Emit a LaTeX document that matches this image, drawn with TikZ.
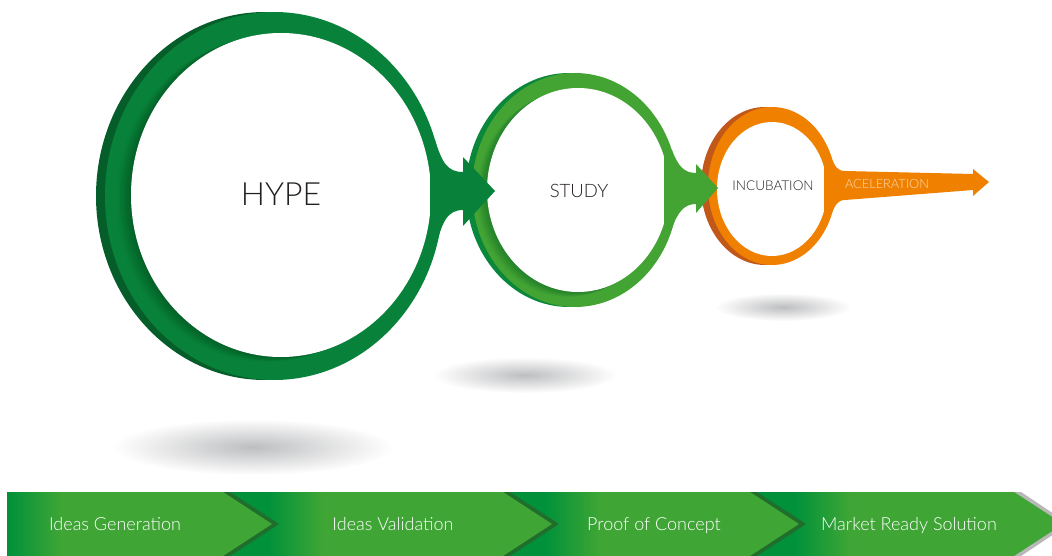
\documentclass[tikz,border=0pt]{standalone}
\usepackage{fontspec}
\newfontfamily\lightfont{Lato Light}
\definecolor{hypefront}{HTML}{08823A}
\definecolor{hypeback}{HTML}{055E29}
\definecolor{hypedark}{HTML}{035F27}
\definecolor{studyfront}{HTML}{43A433}
\definecolor{studyback}{HTML}{0B873B}
\definecolor{studydark}{HTML}{23802A}
\definecolor{incfront}{HTML}{EF8000}
\definecolor{incback}{HTML}{C1581A}
\definecolor{acctext}{HTML}{FDDCB5}
\definecolor{labelgray}{HTML}{231F20}
\definecolor{barlight}{HTML}{3FA635}
\definecolor{bardark}{HTML}{00913A}
\definecolor{barstripe}{HTML}{1F6E2C}
\definecolor{shgray}{HTML}{BDBEC0}
\tikzset{
  ringlabel/.style={text=labelgray, inner sep=0pt},
  barlabel/.style={text=white, inner sep=0pt, anchor=base, font=\lightfont\fontsize{18}{20}\selectfont},
}
\begin{document}
\begin{tikzpicture}[x=1pt,y=-1pt]
\useasboundingbox (0,0) rectangle (1052,556);
\clip (0,0) rectangle (1052,556);
% ---- floor shadows
\shade[inner color=shgray, outer color=white] (253,447) ellipse [x radius=140, y radius=28];
\shade[inner color=shgray, outer color=white] (525,375) ellipse [x radius=92, y radius=18];
\shade[inner color=shgray, outer color=white] (783,307) ellipse [x radius=68, y radius=14];
% ---- HYPE ring
\fill[hypeback] (265,196) ellipse [x radius=169, y radius=184];
\fill[hypefront] (274,196) ellipse [x radius=169, y radius=184];
\foreach \o/\p in {14/15,11/35,8/55,5/75,2/90}
  \fill[hypedark!\p!hypefront] (281-\o,195+\o/3) ellipse [x radius=150, y radius=162];
\fill[white] (281,195) ellipse [x radius=150, y radius=162];
\node[ringlabel, font=\lightfont\fontsize{32}{36}\selectfont] (hype) at (281,194) {HYPE};
% ---- STUDY ring
\fill[studyback] (569,190) ellipse [x radius=103, y radius=117];
\fill[studyfront] (575,190) ellipse [x radius=103, y radius=117];
\foreach \o/\p in {10/15,8/35,6/55,4/75,2/90}
  \fill[studydark!\p!studyfront] (578-\o,190+\o/2) ellipse [x radius=91, y radius=102];
\fill[white] (578,190) ellipse [x radius=91, y radius=102];
\node[ringlabel, font=\lightfont\fontsize{18.5}{22}\selectfont] (study) at (579,191) {STUDY};
% ---- arrow HYPE -> STUDY
\fill[hypefront] (430,140) -- (435,140) .. controls (442,162) and (447,172) .. (463,172)
  -- (463,157) -- (495,191) -- (463,226) -- (463,210)
  .. controls (447,210) and (442,222) .. (435,250) -- (430,250) -- cycle;
% ---- INCUBATION ring
\fill[incback] (765,186) ellipse [x radius=64, y radius=79];
\fill[incfront] (772,186) ellipse [x radius=64, y radius=79];
\fill[white] (772,189) ellipse [x radius=55, y radius=67];
\node[ringlabel, font=\lightfont\fontsize{13.5}{16}\selectfont] (incubation) at (773,186) {INCUBATION};
% ---- arrow STUDY -> INCUBATION
\fill[studyfront] (664,150) -- (672,150) .. controls (678,166) and (684,173) .. (696,173)
  -- (696,164) -- (718,188) -- (696,213) -- (696,204)
  .. controls (684,204) and (678,212) .. (672,228) -- (664,228) -- cycle;
% ---- ACELERATION arrow
\fill[incfront] (824,157) -- (831,157) .. controls (835,166) and (837,171) .. (845,171)
  -- (973,174) -- (973,169) -- (989,182) -- (973,196) -- (973,190) -- (845,200)
  .. controls (837,200) and (835,206) .. (831,215) -- (824,215) -- cycle;
\node[text=acctext, inner sep=0pt, font=\lightfont\fontsize{12.8}{15}\selectfont] (acel) at (887,184) {ACELERATION};
% ---- bottom bar (drawn right to left)
\fill[black!28] (1000,492) -- (1021,492) -- (1069,524) -- (1021,556) -- (1000,556) -- cycle;
\foreach \L/\N [count=\k] in {750/1014,500/750,223/503,7/223}{
  \ifnum\k>1
    \fill[barstripe] (\N-20,492) -- (\N+7,492) -- (\N+56,524) -- (\N+7,556) -- (\N-20,556) -- cycle;
  \fi
  \begin{scope}
    \clip (\L,492) -- (\N,492) -- (\N+49,524) -- (\N,556) -- (\L,556) -- cycle;
    \fill[barlight] (\L,492) rectangle (\N+49,556);
    \ifnum\k<4
      \fill[bardark] (\L,492) rectangle (\L+45,556);
      \shade[left color=bardark, right color=barlight] (\L+44,492) rectangle (\L+100,556);
    \else
      \shade[left color=bardark, right color=barlight] (\L,492) rectangle (\L+55,556);
    \fi
  \end{scope}
}
\node[barlabel] (gen) at (115,530.5) {Ideas Generation};
\node[barlabel] (val) at (393,530.5) {Ideas Validation};
\node[barlabel] (poc) at (654,530.5) {Proof of Concept};
\node[barlabel] (mrs) at (909,530.5) {Market Ready Solution};
\end{tikzpicture}
\end{document}
